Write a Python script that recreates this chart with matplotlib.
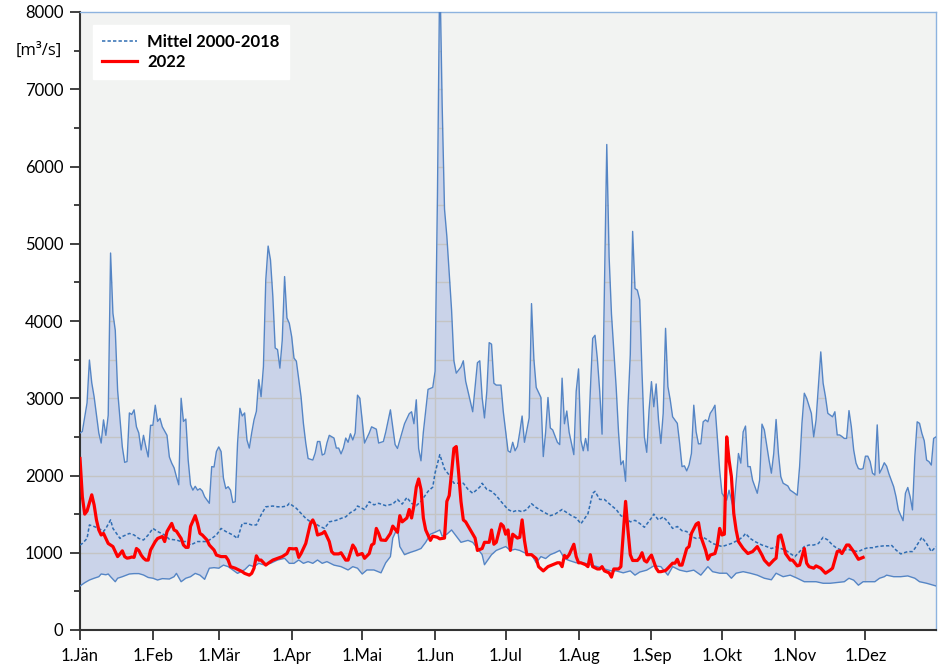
import numpy as np
import matplotlib
matplotlib.use("Agg")
import matplotlib.pyplot as plt
from matplotlib.ticker import MultipleLocator

plt.rcParams['font.family'] = ['Lato', 'DejaVu Sans']

# ---------------- data (day of year, m3/s) ----------------
max_day = [0, 1, 3, 4, 5, 6, 8, 9, 10, 11, 12, 13, 14, 15, 16, 18, 19, 20, 21, 22, 23, 24, 25, 26, 27, 28, 29, 30,
           31, 32, 33, 34, 35, 37, 38, 39, 40, 41, 42, 43, 44, 45, 46, 47, 48, 49, 50, 51, 52, 53, 55, 56, 57, 58,
           59, 60, 61, 62, 63, 64, 65, 66, 67, 68, 69, 70, 71, 72, 73, 74, 75, 76, 77, 78, 79, 80, 81, 82, 83, 84,
           85, 86, 87, 88, 89, 90, 91, 92, 94, 95, 96, 97, 99, 100, 101, 102, 103, 104, 105, 106, 108, 109, 110,
           111, 112, 113, 114, 115, 116, 117, 118, 119, 121, 123, 124, 126, 127, 129, 130, 132, 134, 135, 138, 140,
           141, 142, 143, 144, 145, 146, 148, 150, 151, 152, 153, 154, 155, 156, 158, 159, 160, 162, 163, 164, 166,
           167, 169, 170, 171, 172, 173, 174, 175, 176, 177, 179, 180, 182, 183, 184, 185, 186, 187, 188, 189, 191,
           192, 193, 194, 196, 197, 198, 199, 200, 201, 203, 204, 205, 206, 207, 208, 210, 211, 212, 213, 214, 215,
           216, 217, 218, 219, 220, 221, 222, 224, 225, 226, 228, 229, 230, 231, 232, 233, 234, 235, 236, 237, 238,
           239, 240, 241, 242, 243, 244, 245, 246, 247, 248, 249, 250, 251, 252, 254, 255, 256, 257, 258, 259, 260,
           261, 262, 263, 264, 265, 266, 267, 268, 269, 270, 271, 272, 273, 275, 276, 278, 280, 281, 282, 283, 284,
           285, 286, 288, 289, 290, 291, 293, 294, 295, 296, 297, 298, 299, 301, 302, 303, 305, 306, 307, 308, 309,
           311, 312, 313, 314, 315, 316, 317, 318, 320, 321, 322, 323, 324, 325, 326, 327, 328, 329, 330, 331, 332,
           333, 334, 335, 336, 337, 338, 339, 340, 341, 342, 343, 344, 346, 347, 348, 350, 351, 352, 353, 354, 355,
           356, 357, 358, 359, 360, 361, 362, 363, 364]
max_val = [2550, 2570, 2940, 3495, 3200, 3020, 2550, 2420, 2720, 2520, 2780, 4880, 4100, 3880, 3100, 2370, 2170,
           2180, 2810, 2790, 2850, 2630, 2550, 2330, 2520, 2370, 2240, 2650, 2650, 2910, 2700, 2740, 2630, 2520,
           2240, 2160, 2100, 1985, 1880, 3000, 2700, 2730, 2200, 1880, 1810, 1860, 1810, 1830, 1800, 1725, 1640,
           2115, 2110, 2310, 2370, 2310, 1965, 1830, 1855, 1810, 1650, 1660, 2420, 2870, 2770, 2810, 2460, 2355,
           2550, 2720, 2830, 3240, 3020, 3410, 4530, 4970, 4790, 4320, 3650, 3630, 3390, 3750, 4575, 4040, 3970,
           3800, 3520, 3480, 3020, 2675, 2420, 2220, 2200, 2290, 2440, 2440, 2265, 2280, 2420, 2520, 2485, 2355,
           2355, 2280, 2355, 2485, 2430, 2540, 2460, 2550, 3040, 3000, 2420, 2550, 2630, 2600, 2420, 2440, 2560,
           2850, 2400, 2350, 2670, 2800, 2825, 2670, 2980, 2350, 2190, 2560, 3115, 3140, 3350, 5620, 8600, 6800,
           5450, 5095, 4145, 3485, 3325, 3405, 3485, 3220, 2955, 2825, 3460, 3485, 3010, 2745, 3090, 3720, 3700,
           3195, 3170, 3170, 2825, 2320, 2300, 2430, 2320, 2375, 2560, 2770, 2430, 2745, 4225, 3510, 3140, 3010,
           2245, 2560, 3010, 2615, 2590, 2430, 2400, 3260, 2670, 2835, 2560, 2270, 3090, 3380, 2455, 2320, 2480,
           2320, 3090, 3775, 3815, 3510, 3090, 2535, 6285, 4830, 4090, 3140, 2560, 2140, 2190, 1925, 2880, 3565,
           5160, 4420, 4400, 4275, 3320, 2500, 2300, 2850, 3215, 2890, 3185, 2720, 2415, 2805, 3905, 3150, 2975,
           2760, 2675, 2415, 2115, 2125, 2060, 2135, 2285, 2910, 2565, 2410, 2410, 2695, 2720, 2695, 2805, 2850,
           2910, 2500, 2070, 1770, 1680, 1810, 1555, 2285, 2160, 2565, 2640, 2115, 2115, 1940, 1770, 1940, 2665,
           2590, 2200, 2030, 2285, 2725, 2285, 1985, 1900, 1865, 1810, 1790, 1745, 2115, 2675, 3065, 3000, 2805,
           2500, 2720, 3150, 3600, 3195, 3020, 2805, 2760, 2825, 2525, 2525, 2505, 2480, 2480, 2840, 2630, 2330,
           2160, 2090, 2080, 2090, 2250, 2250, 2180, 2030, 2005, 2655, 2030, 2090, 2165, 2120, 2020, 1855, 1725,
           1555, 1415, 1770, 1845, 1725, 1555, 2245, 2695, 2675, 2545, 2450, 2200, 2180, 2135, 2480, 2500]

min_day = [0, 2, 4, 6, 8, 9, 11, 12, 13, 15, 16, 18, 21, 23, 25, 27, 29, 31, 33, 35, 38, 40, 41, 43, 45, 47, 49, 51,
           53, 55, 57, 59, 61, 63, 65, 67, 70, 72, 74, 76, 78, 81, 84, 87, 89, 91, 93, 95, 97, 99, 101, 103, 105,
           108, 111, 114, 116, 118, 120, 122, 125, 128, 130, 132, 133, 135, 136, 138, 140, 143, 145, 147, 149, 151,
           153, 154, 156, 158, 160, 162, 165, 167, 169, 171, 172, 175, 177, 179, 181, 183, 185, 187, 189, 192, 194,
           196, 198, 200, 202, 204, 206, 208, 211, 214, 217, 220, 223, 226, 228, 231, 234, 236, 238, 241, 244, 247,
           250, 252, 255, 258, 261, 264, 267, 269, 272, 275, 277, 279, 282, 285, 288, 291, 294, 296, 299, 302, 305,
           308, 311, 313, 316, 319, 322, 325, 327, 329, 331, 333, 335, 338, 340, 342, 343, 346, 349, 352, 355, 357,
           360, 364]
min_val = [570, 612, 647, 670, 690, 725, 715, 725, 690, 625, 670, 690, 725, 730, 730, 712, 680, 670, 647, 665, 660,
           690, 733, 625, 670, 690, 733, 710, 656, 800, 807, 800, 840, 820, 777, 733, 780, 840, 820, 863, 845, 863,
           906, 928, 863, 863, 906, 863, 885, 863, 906, 863, 885, 840, 820, 777, 820, 800, 725, 777, 777, 740, 870,
           950, 1190, 1320, 1080, 975, 1000, 1030, 1055, 1135, 1240, 1265, 1295, 1215, 1240, 1295, 1215, 1135,
           1160, 1135, 1055, 975, 845, 975, 1030, 1055, 1080, 1030, 1045, 1030, 1000, 975, 870, 950, 925, 975,
           1000, 1030, 925, 900, 870, 870, 845, 820, 790, 765, 765, 740, 765, 710, 750, 775, 830, 820, 710, 820,
           775, 755, 775, 710, 820, 755, 735, 735, 670, 735, 755, 735, 710, 670, 650, 735, 690, 710, 670, 625, 625,
           625, 605, 605, 615, 625, 670, 645, 580, 625, 625, 625, 670, 690, 710, 690, 690, 700, 670, 625, 605, 570]

mean_day = [0, 1, 3, 4, 6, 8, 10, 11, 13, 14, 16, 17, 18, 21, 23, 25, 27, 29, 31, 33, 36, 38, 41, 43, 45, 47, 50,
            52, 54, 56, 58, 60, 62, 65, 67, 69, 71, 73, 75, 77, 79, 82, 84, 86, 88, 89, 92, 94, 96, 98, 100, 102,
            104, 106, 109, 111, 113, 115, 117, 118, 121, 123, 125, 127, 130, 133, 135, 137, 139, 141, 143, 145, 148,
            150, 151, 153, 155, 157, 159, 161, 163, 165, 167, 170, 171, 173, 175, 177, 179, 182, 184, 186, 188, 190,
            192, 194, 197, 200, 202, 205, 207, 209, 211, 213, 216, 218, 219, 221, 223, 226, 228, 230, 232, 234, 236,
            238, 240, 243, 244, 246, 248, 250, 252, 254, 256, 258, 260, 262, 265, 267, 269, 271, 273, 275, 277, 280,
            282, 283, 285, 287, 290, 292, 294, 296, 298, 300, 302, 304, 306, 308, 310, 312, 314, 316, 318, 320, 322,
            324, 327, 329, 331, 333, 335, 337, 339, 342, 344, 345, 347, 349, 352, 354, 355, 358, 360, 362, 364]
mean_val = [1100, 1120, 1185, 1360, 1340, 1315, 1275, 1315, 1425, 1315, 1230, 1185, 1210, 1250, 1230, 1185, 1165,
            1230, 1315, 1275, 1230, 1175, 1165, 1145, 1145, 1100, 1145, 1145, 1145, 1185, 1230, 1315, 1275, 1230,
            1185, 1380, 1380, 1360, 1360, 1490, 1595, 1605, 1595, 1595, 1605, 1640, 1575, 1510, 1445, 1400, 1380,
            1340, 1315, 1400, 1420, 1445, 1465, 1520, 1555, 1605, 1560, 1660, 1620, 1640, 1610, 1630, 1690, 1630,
            1715, 1640, 1610, 1665, 1795, 1850, 2035, 2270, 2085, 2005, 1900, 1900, 1900, 1820, 1770, 1850, 1900,
            1820, 1795, 1740, 1665, 1560, 1530, 1550, 1530, 1560, 1635, 1585, 1530, 1480, 1500, 1560, 1520, 1480,
            1450, 1375, 1505, 1770, 1795, 1690, 1690, 1610, 1560, 1480, 1450, 1400, 1420, 1380, 1330, 1450, 1500,
            1425, 1465, 1400, 1315, 1340, 1285, 1275, 1210, 1185, 1200, 1165, 1120, 1100, 1080, 1100, 1120, 1165,
            1210, 1250, 1185, 1145, 1100, 1080, 1055, 1075, 1055, 1035, 990, 950, 1015, 1080, 1100, 1100, 1120,
            1200, 1165, 1100, 1055, 1035, 1040, 1025, 1015, 1045, 1065, 1065, 1080, 1090, 1090, 1100, 1035, 985,
            1015, 1015, 1055, 1200, 1120, 1015, 1080]

y22_day = [0, 1, 2, 3, 5, 6, 7, 8, 9, 10, 11, 12, 14, 15, 16, 17, 18, 19, 20, 21, 22, 23, 24, 25, 26, 27, 28, 29,
           30, 32, 33, 35, 36, 37, 39, 40, 41, 43, 44, 45, 46, 47, 49, 50, 51, 52, 54, 55, 57, 58, 60, 62, 63, 64,
           66, 67, 69, 70, 72, 73, 74, 75, 76, 77, 79, 80, 82, 84, 86, 88, 89, 91, 92, 93, 94, 96, 97, 98, 99, 100,
           101, 103, 104, 106, 107, 108, 110, 111, 113, 114, 116, 117, 118, 120, 121, 123, 124, 125, 126, 127, 128,
           130, 132, 133, 135, 136, 137, 139, 140, 141, 142, 143, 144, 145, 146, 147, 149, 150, 152, 153, 155, 156,
           157, 158, 159, 160, 161, 162, 163, 164, 166, 168, 169, 171, 172, 174, 175, 176, 177, 179, 180, 181, 182,
           183, 184, 186, 187, 188, 189, 190, 192, 194, 195, 197, 199, 201, 203, 204, 205, 206, 207, 208, 210, 211,
           212, 213, 215, 216, 217, 218, 220, 221, 222, 223, 225, 226, 227, 229, 230, 231, 232, 233, 234, 235, 237,
           238, 239, 240, 241, 242, 243, 245, 246, 247, 249, 250, 252, 253, 254, 255, 256, 258, 259, 260, 262, 263,
           264, 266, 267, 268, 270, 271, 272, 273, 274, 275, 276, 277, 278, 279, 280, 282, 284, 286, 288, 290, 291,
           293, 295, 296, 297, 298, 299, 300, 302, 303, 305, 306, 308, 309, 310, 312, 313, 315, 317, 319, 320, 322,
           323, 324, 326, 327, 329, 331, 333]
y22_val = [2220, 1725, 1500, 1540, 1750, 1620, 1425, 1295, 1230, 1250, 1185, 1120, 1080, 1015, 950, 985, 1025, 950,
           930, 935, 945, 940, 1055, 1030, 970, 930, 905, 905, 1035, 1145, 1185, 1210, 1145, 1275, 1380, 1295, 1280,
           1185, 1100, 1070, 1070, 1340, 1480, 1380, 1250, 1230, 1165, 1100, 1035, 970, 950, 950, 905, 820, 800,
           785, 755, 733, 710, 733, 800, 960, 905, 905, 840, 863, 905, 928, 950, 990, 1055, 1050, 1055, 940, 990,
           1120, 1250, 1380, 1425, 1360, 1230, 1250, 1275, 1145, 1015, 985, 985, 1000, 905, 905, 1100, 1055, 970,
           990, 928, 990, 1100, 1120, 1315, 1250, 1165, 1160, 1250, 1345, 1265, 1480, 1400, 1450, 1560, 1450, 1610,
           1850, 1955, 1820, 1450, 1295, 1160, 1215, 1200, 1180, 1190, 1665, 1740, 2035, 2350, 2375, 2035, 1665,
           1425, 1400, 1295, 1190, 1030, 1055, 1135, 1135, 1295, 1110, 1135, 1375, 1345, 1240, 1295, 1030, 1240,
           1190, 1200, 1425, 1160, 975, 975, 925, 820, 765, 820, 845, 870, 870, 820, 965, 935, 975, 1110, 950, 870,
           870, 845, 820, 975, 820, 790, 790, 820, 765, 740, 685, 790, 790, 820, 1240, 1665, 1295, 975, 900, 900,
           935, 1000, 900, 880, 930, 970, 800, 755, 755, 770, 800, 865, 865, 915, 840, 840, 1055, 1080, 1250, 1370,
           1390, 1210, 1035, 915, 970, 990, 1100, 1315, 1230, 1240, 2500, 2200, 1985, 1510, 1295, 1145, 1055, 990,
           1015, 1080, 970, 905, 840, 905, 930, 1210, 1230, 1120, 990, 905, 905, 830, 840, 1055, 865, 820, 800, 830,
           800, 735, 775, 800, 1015, 1025, 990, 1100, 1100, 1015, 915, 940]

month_start = [0, 31, 59, 90, 120, 151, 181, 212, 243, 273, 304, 334]
month_labels = ['1.Jän', '1.Feb', '1.Mär', '1.Apr', '1.Mai', '1.Jun', '1.Jul', '1.Aug', '1.Sep', '1.Okt',
                '1.Nov', '1.Dez']

# ---------------- plot ----------------
bg = '#f2f3f2'
band_col = '#cad3e9'
edge_col = '#5585c5'

fig = plt.figure(figsize=(9.42, 6.68), dpi=100)
ax = fig.add_axes([80 / 942, 38 / 668, 856 / 942, 618 / 668])
ax.set_facecolor(bg)

# band between min and max
ax.fill(np.concatenate([max_day, min_day[::-1]]), np.concatenate([max_val, min_val[::-1]]),
        color=band_col, lw=0, zorder=1)

# grid (only visible inside band)
for yv in range(500, 8000, 500):
    ax.axhline(yv, color='#c4c4c4', lw=1, zorder=1.5)
for xv in month_start[1:]:
    ax.axvline(xv, color='#c4c4c4', lw=1, zorder=1.5)
ax.fill_between(max_day, max_val, 9000, color=bg, lw=0, zorder=2)
ax.fill_between(min_day, -100, min_val, color=bg, lw=0, zorder=2)

ax.plot(max_day, max_val, color=edge_col, lw=1.0, zorder=3)
ax.plot(min_day, min_val, color=edge_col, lw=1.0, zorder=3)
ax.plot(mean_day, mean_val, color='#2f6db3', lw=1.1, ls=(0, (2.2, 1.4)), zorder=4, label='Mittel 2000-2018')
ax.plot(y22_day, y22_val, color='#ff0000', lw=2.3, zorder=5, label='2022')

ax.set_xlim(0, 364)
ax.set_ylim(0, 8000)

ax.set_xticks(month_start)
ax.set_xticklabels(month_labels)
ax.yaxis.set_major_locator(MultipleLocator(1000))
ax.yaxis.set_minor_locator(MultipleLocator(500))
ax.tick_params(axis='both', which='major', direction='out', length=7, width=1.3, color='#333333',
               labelsize=12, pad=5, labelcolor='black')
ax.tick_params(axis='y', which='minor', direction='out', length=4, width=1.3, color='#333333')
ax.tick_params(axis='x', pad=6)

for s in ['left', 'bottom']:
    ax.spines[s].set_color('#333333')
    ax.spines[s].set_linewidth(1.5)
for s in ['top', 'right']:
    ax.spines[s].set_color('#8db3df')
    ax.spines[s].set_linewidth(1.0)

ax.text(-0.021, 7500, '[m³/s]', transform=ax.get_yaxis_transform(), ha='right', va='center', fontsize=12,
        family=['Open Sans', 'DejaVu Sans'])

leg = ax.legend(loc='upper left', bbox_to_anchor=(0.015, 0.979), borderaxespad=0, fancybox=False,
                framealpha=1, edgecolor='white', handlelength=2.1, handletextpad=0.6,
                prop={'weight': 'bold', 'size': 12}, borderpad=0.55, labelspacing=0.25)
leg.set_zorder(10)

fig.savefig('out.png', dpi=100)
